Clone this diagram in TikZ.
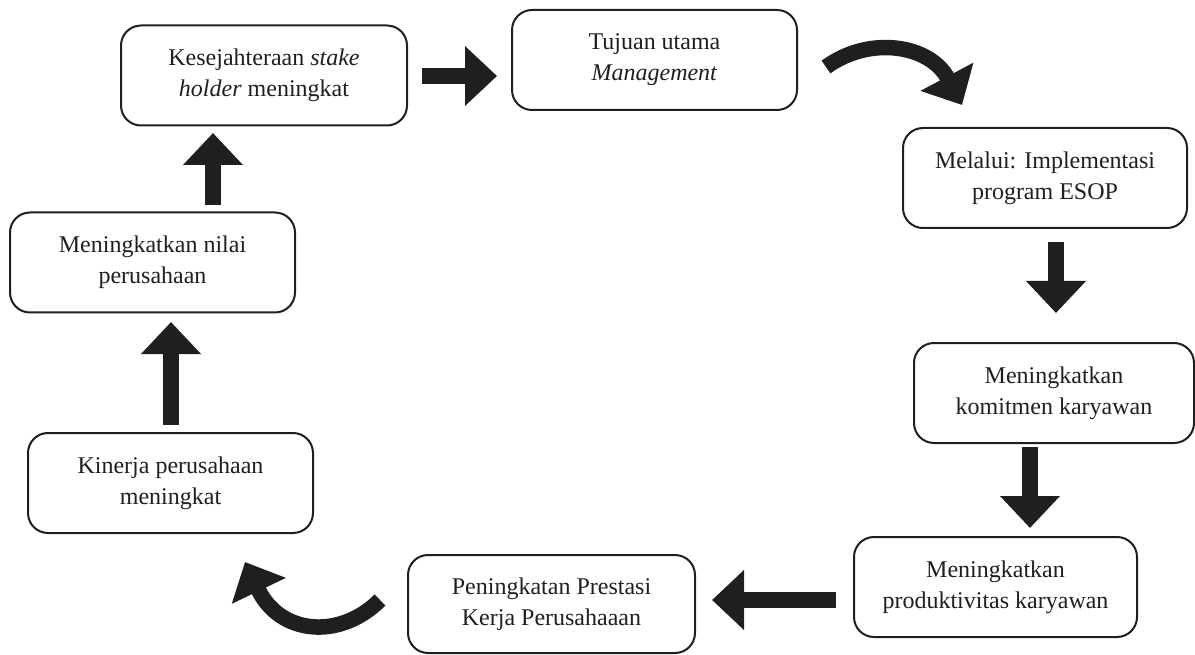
\documentclass[tikz,border=0pt]{standalone}
\usepackage{fontspec}
\setmainfont{Liberation Serif}
\usetikzlibrary{arrows.meta}

\begin{document}
\begin{tikzpicture}
    [x=1pt, y=-1pt,
    %Options for boxes and block arrows
    ink/.style={color=black!88},
    box/.style={draw, ink, line width=2pt, rounded corners=20pt,
        minimum width=#1, minimum height=100pt, align=center,
        font=\fontsize{24}{31}\selectfont},
    box/.default=285pt,
    block/.style={ink, line width=15.5pt, -{Triangle[length=32pt,width=58pt]}}];

    \useasboundingbox (0,0) rectangle (1195,655);

    % Boxes
    \node[box=286pt] (kes) at (264,75.5) {Kesejahteraan \textit{stake}\\ \textit{holder} meningkat};
    \node[box] (tuj) at (654.5,60) {Tujuan utama\\ \textit{Management}};
    \node[box=284pt] (mel) at (1045,178) {Melalui: Implementasi\\ program ESOP};
    \node[box=280pt] (kom) at (1054,393) {Meningkatkan\\ komitmen karyawan};
    \node[box=283pt] (pro) at (995.5,587) {Meningkatkan\\ produktivitas karyawan};
    \node[box=287pt, minimum height=98pt] (pre) at (551.5,604) {Peningkatan Prestasi\\ Kerja Perusahaaan};
    \node[box] (kin) at (170.5,483) {Kinerja perusahaan\\ meningkat};
    \node[box] (nil) at (152.5,262.5) {Meningkatkan nilai\\ perusahaan};

    % Arrow ends
    \coordinate (kes-tuj-a) at (422,76);   \coordinate (kes-tuj-b) at (497,76);
    \coordinate (tuj-mel-a) at (826,67);   \coordinate (tuj-mel-b) at (962,105);
    \coordinate (mel-kom-a) at (1056,242); \coordinate (mel-kom-b) at (1056,313);
    \coordinate (kom-pro-a) at (1030,447); \coordinate (kom-pro-b) at (1030,528);
    \coordinate (pro-pre-a) at (836,600);  \coordinate (pro-pre-b) at (712,600);
    \coordinate (pre-kin-a) at (380,600);  \coordinate (pre-kin-b) at (245,562);
    \coordinate (kin-nil-a) at (171,425);  \coordinate (kin-nil-b) at (171,322);
    \coordinate (nil-kes-a) at (213,205);  \coordinate (nil-kes-b) at (213,133);

    % Block arrows
    \draw[block] (kes-tuj-a) -- (kes-tuj-b);
    \draw[block] (tuj-mel-a) .. controls (870,35) and (930,45) .. (tuj-mel-b);
    \draw[block] (mel-kom-a) -- (mel-kom-b);
    \draw[block] (kom-pro-a) -- (kom-pro-b);
    \draw[block] (pro-pre-a) -- (pro-pre-b);
    \draw[block] (pre-kin-a) .. controls (340,640) and (280,635) .. (pre-kin-b);
    \draw[block] (kin-nil-a) -- (kin-nil-b);
    \draw[block] (nil-kes-a) -- (nil-kes-b);

\end{tikzpicture}
\end{document}
